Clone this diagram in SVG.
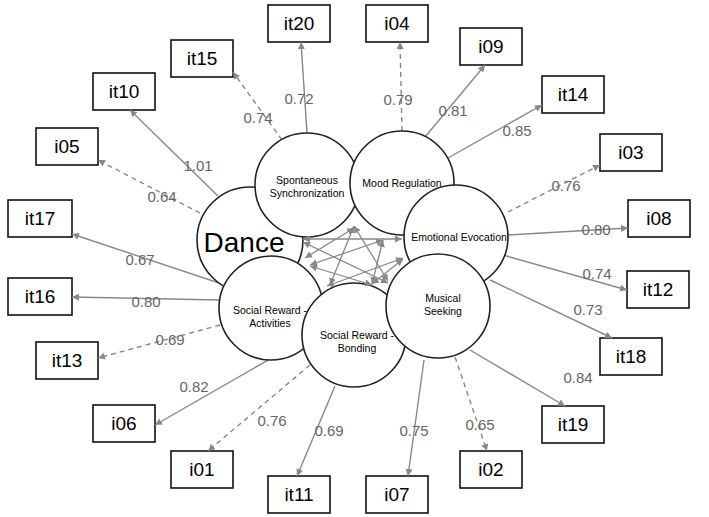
<svg xmlns="http://www.w3.org/2000/svg" width="709" height="517" viewBox="0 0 709 517">
<style>
.b{fill:#fff;stroke:#111;stroke-width:1.6}
.bt{font-family:"Liberation Sans",Arial,sans-serif;font-size:19px;fill:#000;text-anchor:middle}
.c{fill:#fff;stroke:#222;stroke-width:1.6}
.ct{font-family:"Liberation Sans",Arial,sans-serif;font-size:10.5px;fill:#000;text-anchor:middle}
.l{stroke:#888;stroke-width:1.4;fill:none;marker-end:url(#a)}
.d{stroke-dasharray:5,4}
.i{stroke:#888;stroke-width:1.3;fill:none;marker-end:url(#a);marker-start:url(#s)}
.n{font-family:"Liberation Sans",Arial,sans-serif;font-size:15px;fill:#666;text-anchor:middle}
</style>
<defs>
<marker id="a" viewBox="0 0 10 10" refX="10" refY="5" markerWidth="7" markerHeight="7" orient="auto" markerUnits="userSpaceOnUse"><path d="M0,0L10,5L0,10z" fill="#888"/></marker>
<marker id="s" viewBox="0 0 10 10" refX="0" refY="5" markerWidth="7" markerHeight="7" orient="auto" markerUnits="userSpaceOnUse"><path d="M10,0L0,5L10,10z" fill="#888"/></marker>
</defs>
<rect width="709" height="517" fill="#fff"/>
<g id="boxes">
<g id="it20"><rect class="b" x="268" y="5" width="62" height="37"/><text class="bt" x="299" y="30">it20</text></g>
<g id="i04"><rect class="b" x="366" y="5" width="62" height="37"/><text class="bt" x="397" y="30">i04</text></g>
<g id="it15"><rect class="b" x="171" y="40" width="62" height="37"/><text class="bt" x="202" y="65">it15</text></g>
<g id="i09"><rect class="b" x="460" y="28" width="62" height="37"/><text class="bt" x="491" y="53">i09</text></g>
<g id="it10"><rect class="b" x="93" y="73" width="62" height="37"/><text class="bt" x="124" y="98">it10</text></g>
<g id="it14"><rect class="b" x="542" y="76" width="62" height="37"/><text class="bt" x="573" y="101">it14</text></g>
<g id="i05"><rect class="b" x="36" y="128" width="62" height="37"/><text class="bt" x="67" y="153">i05</text></g>
<g id="i03"><rect class="b" x="600" y="134" width="62" height="37"/><text class="bt" x="631" y="159">i03</text></g>
<g id="it17"><rect class="b" x="8" y="200" width="64" height="37"/><text class="bt" x="40" y="225">it17</text></g>
<g id="i08"><rect class="b" x="628" y="200" width="62" height="37"/><text class="bt" x="659" y="225">i08</text></g>
<g id="it16"><rect class="b" x="8" y="278" width="64" height="37"/><text class="bt" x="40" y="303">it16</text></g>
<g id="it12"><rect class="b" x="627" y="271" width="62" height="37"/><text class="bt" x="658" y="296">it12</text></g>
<g id="it13"><rect class="b" x="36" y="342" width="62" height="37"/><text class="bt" x="67" y="367">it13</text></g>
<g id="it18"><rect class="b" x="600" y="338" width="62" height="37"/><text class="bt" x="631" y="363">it18</text></g>
<g id="i06"><rect class="b" x="93" y="405" width="62" height="37"/><text class="bt" x="124" y="430">i06</text></g>
<g id="it19"><rect class="b" x="542" y="406" width="62" height="37"/><text class="bt" x="573" y="431">it19</text></g>
<g id="i01"><rect class="b" x="171" y="451" width="62" height="37"/><text class="bt" x="202" y="476">i01</text></g>
<g id="i02"><rect class="b" x="460" y="451" width="62" height="37"/><text class="bt" x="491" y="476">i02</text></g>
<g id="it11"><rect class="b" x="268" y="476" width="62" height="37"/><text class="bt" x="299" y="501">it11</text></g>
<g id="i07"><rect class="b" x="366" y="476" width="62" height="37"/><text class="bt" x="397" y="501">i07</text></g>
</g>
<g id="connectors">
<line class="l" x1="307" y1="133" x2="301" y2="42"/>
<line class="l d" x1="282" y1="140" x2="233" y2="72"/>
<line class="l d" x1="402" y1="131" x2="400" y2="42"/>
<line class="l" x1="425" y1="137" x2="485" y2="65"/>
<line class="l" x1="448" y1="158" x2="542" y2="105"/>
<line class="l" x1="218" y1="196" x2="130" y2="110"/>
<line class="l d" x1="200" y1="213" x2="98" y2="160"/>
<line class="l d" x1="508" y1="212" x2="600" y2="165"/>
<line class="l" x1="508" y1="235" x2="628" y2="228"/>
<line class="l" x1="503" y1="255" x2="627" y2="290"/>
<line class="l" x1="490" y1="280" x2="612" y2="338"/>
<line class="l" x1="470" y1="350" x2="565" y2="406"/>
<line class="l d" x1="455" y1="357" x2="487" y2="451"/>
<line class="l" x1="424" y1="360" x2="408" y2="476"/>
<line class="l" x1="335" y1="386" x2="297" y2="476"/>
<line class="l d" x1="310" y1="365" x2="208" y2="451"/>
<line class="l" x1="303" y1="340" x2="155" y2="425"/>
<line class="l d" x1="220" y1="325" x2="98" y2="358"/>
<line class="l" x1="219" y1="300" x2="72" y2="297"/>
<line class="l" x1="225" y1="285" x2="72" y2="234"/>
</g>
<g id="labels">
<text class="n" x="299" y="104">0.72</text>
<text class="n" x="258" y="123">0.74</text>
<text class="n" x="398" y="105">0.79</text>
<text class="n" x="453" y="116">0.81</text>
<text class="n" x="517" y="136">0.85</text>
<text class="n" x="198" y="171">1.01</text>
<text class="n" x="162" y="202">0.64</text>
<text class="n" x="566" y="191">0.76</text>
<text class="n" x="596" y="235">0.80</text>
<text class="n" x="597" y="279">0.74</text>
<text class="n" x="588" y="315">0.73</text>
<text class="n" x="578" y="383">0.84</text>
<text class="n" x="480" y="430">0.65</text>
<text class="n" x="414" y="436">0.75</text>
<text class="n" x="329" y="436">0.69</text>
<text class="n" x="272" y="426">0.76</text>
<text class="n" x="194" y="392">0.82</text>
<text class="n" x="170" y="345">0.69</text>
<text class="n" x="146" y="307">0.80</text>
<text class="n" x="140" y="265">0.67</text>
</g>
<g id="Dance"><circle class="c" cx="250" cy="240" r="53"/><text x="244" y="252" font-family="Liberation Sans,Arial,sans-serif" font-size="28" text-anchor="middle">Dance</text></g>
<g id="Spont"><circle class="c" cx="307" cy="185" r="52"/><text class="ct" x="307" y="184">Spontaneous</text><text class="ct" x="307" y="197">Synchronization</text></g>
<g id="Mood"><circle class="c" cx="402" cy="183" r="52"/><text class="ct" x="402" y="187">Mood Regulation</text></g>
<g id="Emo"><circle class="c" cx="456" cy="237" r="52"/><text class="ct" x="459" y="241">Emotional Evocation</text></g>
<g id="Act"><circle class="c" cx="271" cy="308" r="52"/><text class="ct" x="270" y="314">Social Reward -</text><text class="ct" x="270" y="327">Activities</text></g>
<g id="Bond"><circle class="c" cx="354" cy="335" r="52"/><text class="ct" x="357" y="339">Social Reward -</text><text class="ct" x="357" y="352">Bonding</text></g>
<g id="Mus"><circle class="c" cx="438" cy="306" r="52"/><text class="ct" x="443" y="302">Musical</text><text class="ct" x="443" y="315">Seeking</text></g>
<g id="correlations">
<line class="i" x1="303" y1="239" x2="402" y2="239"/>
<line class="i" x1="303" y1="242" x2="388" y2="283"/>
<line class="i" x1="354" y1="226" x2="388" y2="281"/>
<line class="i" x1="354" y1="226" x2="330" y2="285"/>
<line class="i" x1="383" y1="240" x2="310" y2="265"/>
<line class="i" x1="383" y1="240" x2="372" y2="284"/>
<line class="i" x1="403" y1="258" x2="327" y2="286"/>
<line class="i" x1="354" y1="228" x2="305" y2="258"/>
<line class="i" x1="403" y1="259" x2="372" y2="284"/>
<line class="i" x1="310" y1="266" x2="372" y2="285"/>
</g>
</svg>
